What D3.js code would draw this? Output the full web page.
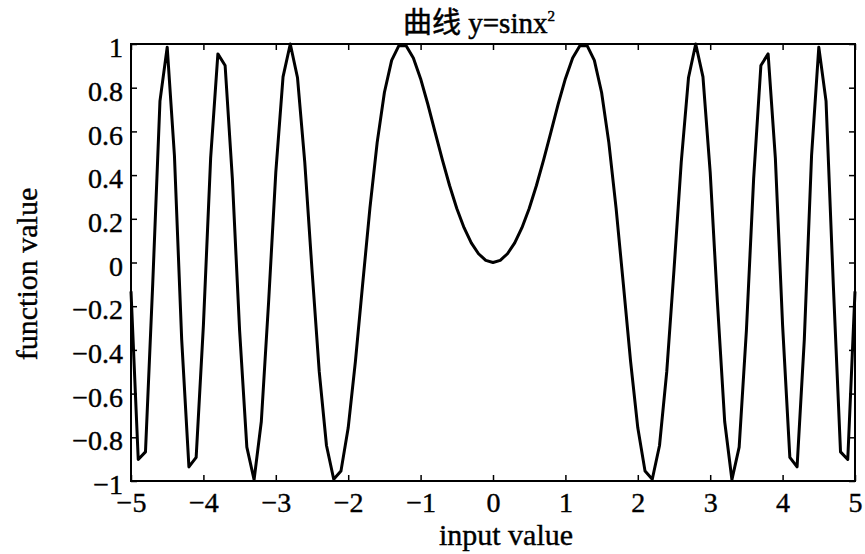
<!DOCTYPE html>
<html><head><meta charset="utf-8">
<script src="https://cdn.jsdelivr.net/npm/d3@7"></script>
<style>
body{margin:0;background:#fff;}
text{font-family:"Liberation Serif","Noto Sans CJK SC",serif;fill:#000;}
</style></head>
<body><svg id="c" width="865" height="554"></svg>
<script>
const xValues = [-5.0,-4.9,-4.8,-4.7,-4.6,-4.5,-4.4,-4.3,-4.2,-4.1,-4.0,-3.9,-3.8,-3.7,-3.6,-3.5,-3.4,-3.3,-3.2,-3.1,
 -3.0,-2.9,-2.8,-2.7,-2.6,-2.5,-2.4,-2.3,-2.2,-2.1,-2.0,-1.9,-1.8,-1.7,-1.6,-1.5,-1.4,-1.3,-1.2,-1.1,
 -1.0,-0.9,-0.8,-0.7,-0.6,-0.5,-0.4,-0.3,-0.2,-0.1,0.0,0.1,0.2,0.3,0.4,0.5,0.6,0.7,0.8,0.9,
 1.0,1.1,1.2,1.3,1.4,1.5,1.6,1.7,1.8,1.9,2.0,2.1,2.2,2.3,2.4,2.5,2.6,2.7,2.8,2.9,
 3.0,3.1,3.2,3.3,3.4,3.5,3.6,3.7,3.8,3.9,4.0,4.1,4.2,4.3,4.4,4.5,4.6,4.7,4.8,4.9,5.0];
const yValues = [-0.1324,-0.9014,-0.8668,-0.0986,0.7387,0.9855,0.4886,-0.3519,-0.9354,-0.8920,
 -0.2879,0.4776,0.9546,0.9017,0.3836,-0.3111,-0.8447,-0.9945,-0.7278,-0.1841,
 0.4121,0.8497,0.9999,0.8455,0.4589,-0.0332,-0.4996,-0.8376,-0.9918,-0.9548,
 -0.7568,-0.4515,-0.0982,0.2486,0.5487,0.7781,0.9252,0.9929,0.9915,0.9356,
 0.8415,0.7243,0.5972,0.4706,0.3523,0.2474,0.1593,0.0899,0.0400,0.0100,
 0.0000,
 0.0100,0.0400,0.0899,0.1593,0.2474,0.3523,0.4706,0.5972,0.7243,0.8415,
 0.9356,0.9915,0.9929,0.9252,0.7781,0.5487,0.2486,-0.0982,-0.4515,-0.7568,
 -0.9548,-0.9918,-0.8376,-0.4996,-0.0332,0.4589,0.8455,0.9999,0.8497,0.4121,
 -0.1841,-0.7278,-0.9945,-0.8447,-0.3111,0.3836,0.9017,0.9546,0.4776,-0.2879,
 -0.8920,-0.9354,-0.3519,0.4886,0.9855,0.7387,-0.0986,-0.8668,-0.9014,-0.1324];
const xTicks = [-5,-4,-3,-2,-1,0,1,2,3,4,5];
const yTicks = [-1,-0.8,-0.6,-0.4,-0.2,0,0.2,0.4,0.6,0.8,1];
const xTickLabels = ["\u22125","\u22124","\u22123","\u22122","\u22121","0","1","2","3","4","5"];
const yTickLabels = ["\u22121","\u22120.8","\u22120.6","\u22120.4","\u22120.2","0","0.2","0.4","0.6","0.8","1"];
const titleMain = "曲线 y=sinx";
const titleSup = "2";
const xLabel = "input value";
const yLabel = "function value";

const L=131,R=855,T=44,B=481;
const svg=d3.select("#c");
const x=d3.scaleLinear().domain([-5,5]).range([L,R]);
const y=d3.scaleLinear().domain([-1,1]).range([B,T]);
const tl=6;

svg.append("rect").attr("x",L).attr("y",T).attr("width",R-L).attr("height",B-T)
  .attr("fill","none").attr("stroke","#000").attr("stroke-width",2);

const bx=svg.append("g").attr("transform",`translate(0,${B})`)
  .call(d3.axisBottom(x).tickValues(xTicks).tickSizeInner(-tl).tickSizeOuter(0).tickPadding(11)
  .tickFormat((d,i)=>xTickLabels[i]));
const tx=svg.append("g").attr("transform",`translate(0,${T})`)
  .call(d3.axisTop(x).tickValues(xTicks).tickSizeInner(-tl).tickSizeOuter(0).tickFormat(""));
const ly=svg.append("g").attr("transform",`translate(${L},0)`)
  .call(d3.axisLeft(y).tickValues(yTicks).tickSizeInner(-tl).tickSizeOuter(0).tickPadding(8)
  .tickFormat((d,i)=>yTickLabels[i]));
const ry=svg.append("g").attr("transform",`translate(${R},0)`)
  .call(d3.axisRight(y).tickValues(yTicks).tickSizeInner(-tl).tickSizeOuter(0).tickFormat(""));
[bx,tx,ly,ry].forEach(g=>{
  g.select(".domain").remove();
  g.selectAll(".tick line").attr("stroke","#000").attr("stroke-width",1.5);
  g.selectAll("text").attr("font-size",28).attr("font-family","Liberation Serif")
    .attr("fill","#000").attr("stroke","#000").attr("stroke-width",0.4);
});
bx.selectAll("text").attr("dy","0.71em");
ly.selectAll("text").attr("dy","0.45em");

const pts=xValues.map((v,i)=>[v,yValues[i]]);
svg.append("path").datum(pts)
  .attr("d",d3.line().x(d=>x(d[0])).y(d=>y(d[1])))
  .attr("fill","none").attr("stroke","#000").attr("stroke-width",3).attr("stroke-linejoin","round");

const t=svg.append("text").attr("x",479).attr("y",33).attr("text-anchor","middle")
  .attr("font-size",29).attr("stroke","#000").attr("stroke-width",0.5);
t.append("tspan").text(titleMain);
t.append("tspan").attr("font-size",15).attr("dy",-12).text(titleSup);

svg.append("text").attr("x",506).attr("y",545).attr("text-anchor","middle")
  .attr("font-size",30).attr("stroke","#000").attr("stroke-width",0.4).text(xLabel);
svg.append("text").attr("transform","translate(37,274) rotate(-90)").attr("text-anchor","middle")
  .attr("font-size",30).attr("stroke","#000").attr("stroke-width",0.4).text(yLabel);
</script></body></html>
